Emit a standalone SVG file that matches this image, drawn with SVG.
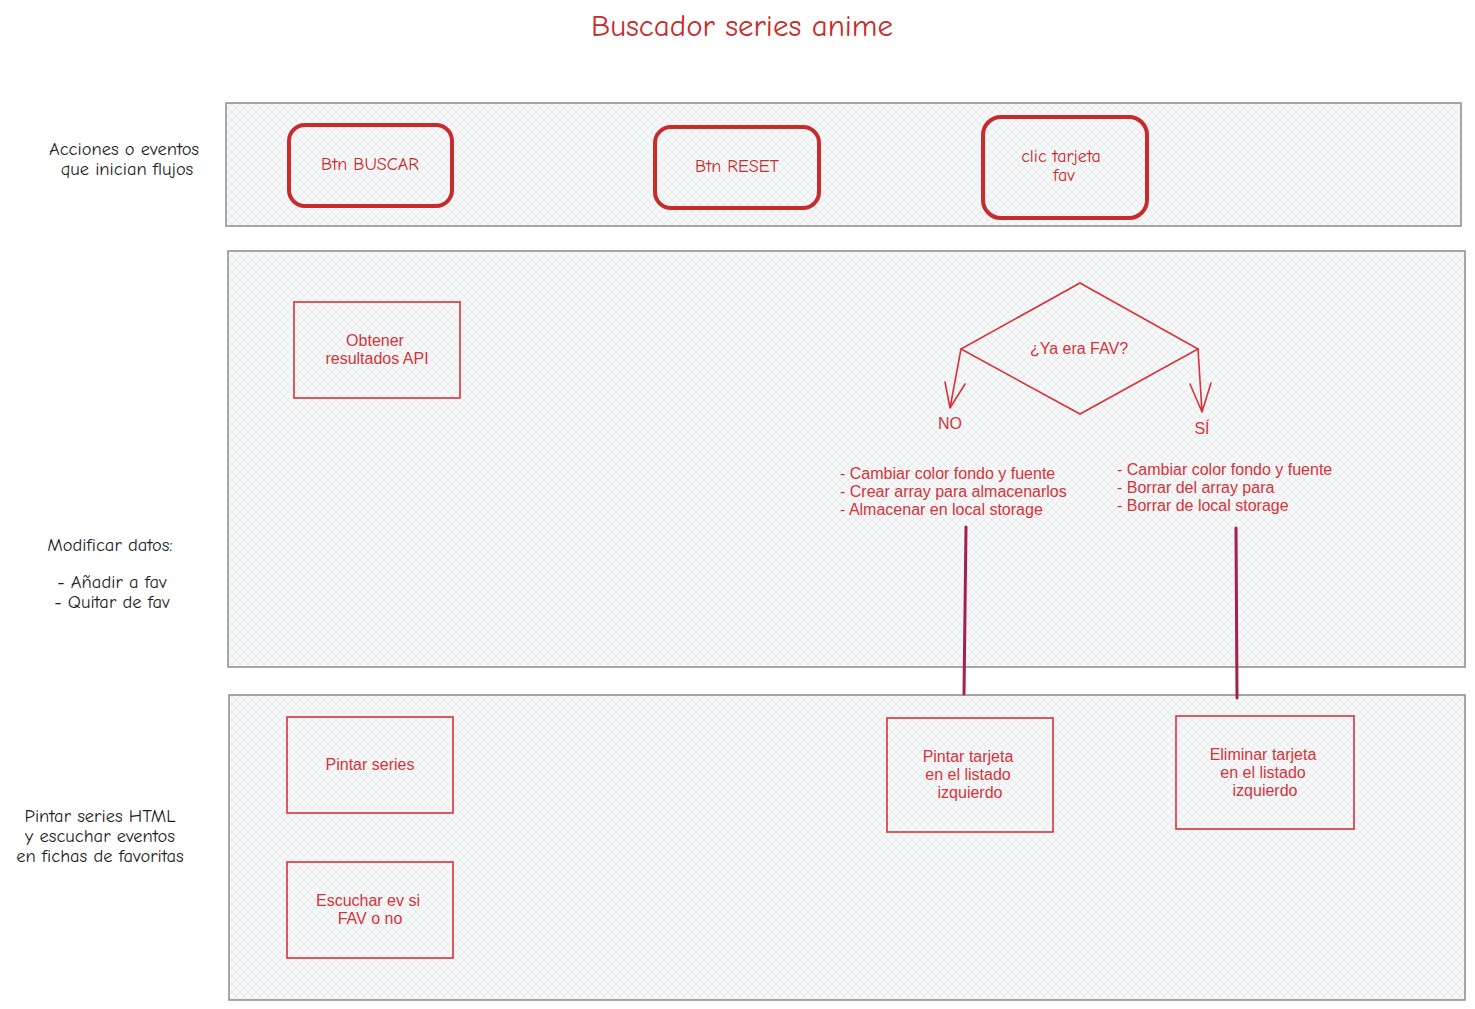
<svg xmlns="http://www.w3.org/2000/svg" width="1475" height="1009" viewBox="0 0 1475 1009">
<style>
.lane{fill:url(#hatch);stroke:#8a8a8a;stroke-width:1.5}
.btn{fill:none;stroke:#c92a2a;stroke-width:4}
.box{fill:none;stroke:#d6333a;stroke-width:1.6}
.t{font-family:"Liberation Sans",sans-serif;fill:#d6333a;font-size:16px;text-anchor:middle}
.hand{font-family:"Comic Neue","Liberation Sans",sans-serif;fill:#1e1e1e;font-size:18.5px;text-anchor:middle}
.btnt{font-family:"Comic Neue","Liberation Sans",sans-serif;fill:#c92a2a;font-size:18px;text-anchor:middle}
.lst{font-family:"Liberation Sans",sans-serif;fill:#d6333a;font-size:16px}
.conn{stroke:#a61e4d;stroke-width:3;fill:none;stroke-linecap:round}
.arr{stroke:#d6333a;stroke-width:1.6;fill:none;stroke-linecap:round}
</style>
<defs>
<pattern id="hatch" width="8" height="8" patternUnits="userSpaceOnUse">
<rect width="8" height="8" fill="#f6f7f8"/>
<path d="M0 8 L8 0 M0 0 L8 8" stroke="#e2e4e7" stroke-width="0.7"/>
</pattern>
</defs>
<rect width="1475" height="1009" fill="#ffffff"/>
<text x="742" y="36" font-family="Comic Neue,Liberation Sans,sans-serif" font-size="31" fill="#c92a2a" text-anchor="middle">Buscador series anime</text>

<g id="lanes">
<rect id="lane1" class="lane" x="226" y="103" width="1235" height="123"/>
<rect id="lane2" class="lane" x="228" y="251" width="1237" height="416"/>
<rect id="lane3" class="lane" x="229" y="695" width="1236" height="305"/>
</g>

<g id="label-acciones"><text class="hand" x="124" y="155">Acciones o eventos</text><text class="hand" x="127" y="175">que inician flujos</text></g>
<g id="label-modificar"><text class="hand" x="110" y="551">Modificar datos:</text><text class="hand" x="112" y="588">- Añadir a fav</text><text class="hand" x="112" y="608">- Quitar de fav</text></g>
<g id="label-pintar"><text class="hand" x="100" y="822">Pintar series HTML</text><text class="hand" x="100" y="842">y escuchar eventos</text><text class="hand" x="100" y="862">en fichas de favoritas</text></g>

<g id="btn-buscar"><rect class="btn" x="289" y="125" width="163" height="81" rx="16"/><text class="btnt" x="370" y="170">Btn BUSCAR</text></g>
<g id="btn-reset"><rect class="btn" x="655" y="127" width="164" height="81" rx="16"/><text class="btnt" x="737" y="172">Btn RESET</text></g>
<g id="clic-fav"><rect class="btn" x="983" y="117" width="164" height="101" rx="18"/><text class="btnt" x="1061" y="162">clic tarjeta</text><text class="btnt" x="1064" y="181">fav</text></g>

<g id="obtener"><rect class="box" x="294" y="302" width="166" height="96"/><text class="t" x="375" y="346">Obtener</text><text class="t" x="377" y="364">resultados API</text></g>

<g id="decision"><path class="box" d="M1080 283 L1198 349 L1080 414 L961 349 Z"/><text class="t" x="1079" y="354">¿Ya era FAV?</text></g>

<g id="label-no"><text class="lst" x="950" y="429" text-anchor="middle">NO</text></g>
<g id="label-si"><text class="lst" x="1202" y="434" text-anchor="middle">SÍ</text></g>

<g id="list-no"><text class="lst" x="840" y="479">- Cambiar color fondo y fuente</text><text class="lst" x="840" y="497">- Crear array para almacenarlos</text><text class="lst" x="840" y="515">- Almacenar en local storage</text></g>
<g id="list-si"><text class="lst" x="1117" y="475">- Cambiar color fondo y fuente</text><text class="lst" x="1117" y="493">- Borrar del array para</text><text class="lst" x="1117" y="511">- Borrar de local storage</text></g>

<g id="pintar-series"><rect class="box" x="287" y="717" width="166" height="96"/><text class="t" x="370" y="770">Pintar series</text></g>
<g id="escuchar"><rect class="box" x="287" y="862" width="166" height="96"/><text class="t" x="368" y="906">Escuchar ev si</text><text class="t" x="370" y="924">FAV o no</text></g>
<g id="pintar-tarjeta"><rect class="box" x="887" y="718" width="166" height="114"/><text class="t" x="968" y="762">Pintar tarjeta</text><text class="t" x="968" y="780">en el listado</text><text class="t" x="970" y="798">izquierdo</text></g>
<g id="eliminar-tarjeta"><rect class="box" x="1176" y="716" width="178" height="113"/><text class="t" x="1263" y="760">Eliminar tarjeta</text><text class="t" x="1263" y="778">en el listado</text><text class="t" x="1265" y="796">izquierdo</text></g>

<g id="connectors">
<path class="arr" d="M961 349 L950 408 M945 382 L950 408 M965 384 L950 408"/>
<path class="arr" d="M1198 349 L1202 412 M1190 384 L1202 412 M1211 383 L1202 412"/>
<path class="conn" d="M966 527 L964 694"/>
<path class="conn" d="M1236 528 L1237 698"/>
</g>
</svg>
